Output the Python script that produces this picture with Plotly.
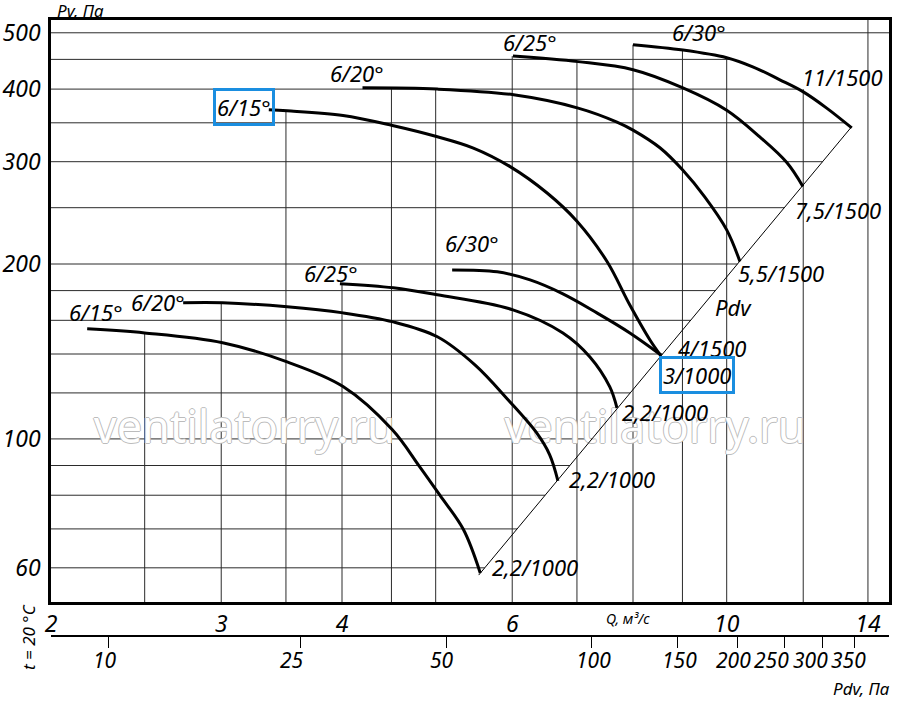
"""Fan performance chart: Pv vs Q for 6/15..6/30 deg blade settings, 1000 and 1500 rpm."""

import numpy as np
import plotly.graph_objects as go

# values: Q in m3/s, Pv in Pa (both axes logarithmic)
UP15_Q = [3.36, 3.51, 4.01, 4.51, 5.01, 5.47, 5.97, 6.52, 7.00, 7.52, 7.94, 8.33, 8.55]
UP15_PV = [368.5, 367, 360.3, 346.3, 331.5, 316.7, 294.2, 265, 237, 202, 170, 148, 139]

UP20_Q = [4.20, 5.02, 6.02, 7.02, 7.70, 8.00, 8.53, 9.01, 9.49, 10.0, 10.32]
UP20_PV = [402, 400, 391, 371, 351, 340, 317, 290, 261, 229, 202]

UP25_Q = [6.01, 7.02, 8.00, 9.01, 10.0, 10.82, 11.54, 11.99]
UP25_PV = [456, 446, 432, 402, 368, 331, 299, 272]

UP30_Q = [8.00, 9.01, 10.0, 10.64, 11.35, 11.99, 12.69, 13.47]
UP30_PV = [477, 467, 453, 437, 415, 396, 371, 343]

LO15_Q = [2.18, 2.50, 3.01, 3.51, 4.01, 4.51, 4.81, 5.05, 5.34, 5.56]
LO15_PV = [154.7, 152.2, 146.4, 135.7, 123.1, 103.7, 89.7, 80.0, 69.9, 58.8]

LO20_Q = [2.74, 3.01, 3.51, 4.01, 4.52, 5.02, 5.49, 5.94, 6.36, 6.56, 6.69]
LO20_PV = [171.5, 171.5, 168.8, 164.8, 159.0, 149.9, 134.1, 116.8, 102.4, 93.9, 84.7]

LO25_Q = [3.98, 4.52, 5.02, 6.01, 6.77, 7.22, 7.57, 7.70]
LO25_PV = [185.0, 182.0, 177.0, 166.8, 152.2, 138.4, 122.9, 113.1]

LO30_Q = [5.20, 5.79, 6.26, 6.77, 7.34, 7.94, 8.55]
LO30_PV = [195.4, 193.9, 187.8, 177.7, 164.8, 152.2, 139.5]

# dynamic pressure line (Pv == Pdv), ends of the thin diagonal
PDV_LINE_PV = [58.3, 343.0]

# axis ticks
Q_TICKS = [2, 3, 4, 6, 10, 14]
PV_TICKS = [60, 100, 200, 300, 400, 500]
PDV_TICKS = [10, 25, 50, 100, 150, 200, 250, 300, 350]

# grid: vertical lines run from the bottom up to the curve above them
VGRID_Q = [2.5, 3, 3.5, 4, 4.5, 5, 6, 7, 8, 9, 10, 12, 14]
VGRID_TOP_PV = [152, 171.5, 367, 184, 400, 400, 456, 446, 477, 467, 453, 400, None]
HGRID_PV = [60, 70, 80, 90, 100, 120, 140, 160, 180, 200, 250, 300, 350, 400, 450, 500]

FONT = "Noto Sans"
X_RANGE = (2.0, 14.72)
Y_RANGE = (52.4, 526.0)
PDV_K = 1.9  # Pdv = PDV_K * Q^2

W, H = 900, 706
M = {"l": 51, "r": 11, "t": 20, "b": 70}
PLOT_BOTTOM = 602  # pixel row of the Q axis
# the crowded Pdv labels are nudged left of their ticks, as in the original
PDV_LABEL_SHIFT = [-4, -9, -4, 2, 2, -4, -13, -12, -6]


def paper(x, y):
    return (x - M["l"]) / (W - M["l"] - M["r"]), (H - M["b"] - y) / (H - M["t"] - M["b"])


def grid_end(pv):
    if pv <= PDV_LINE_PV[-1]:
        return float(np.sqrt(pv / PDV_K))
    if pv <= max(UP30_PV):
        return float(10 ** np.interp(np.log10(pv), np.log10(UP30_PV[::-1]), np.log10(UP30_Q[::-1])))
    return X_RANGE[1]


fig = go.Figure()

gx, gy = [], []
for q, top in zip(VGRID_Q, VGRID_TOP_PV):
    gx += [q, q, None]
    gy += [Y_RANGE[0], top if top else Y_RANGE[1], None]
for pv in HGRID_PV:
    gx += [X_RANGE[0], grid_end(pv), None]
    gy += [pv, pv, None]
fig.add_trace(go.Scatter(x=gx, y=gy, mode="lines", line={"color": "#2b2b2b", "width": 1},
                         hoverinfo="skip", showlegend=False))

# watermark, under the curves
fig.add_trace(go.Scatter(
    x=[3.17, 8.43], y=[102.9, 102.9], mode="text", text=["ventilatorry.ru"] * 2,
    textfont={"family": FONT, "size": 45, "color": "white",
              "shadow": "1px 0 0 #bcbcbc, -1px 0 0 #bcbcbc, 0 1px 0 #bcbcbc, 0 -1px 0 #bcbcbc"},
    hoverinfo="skip", showlegend=False,
))

# Pdv line: on the Pdv axis it is simply Pv = Pdv
fig.add_trace(go.Scatter(x=PDV_LINE_PV, y=PDV_LINE_PV, xaxis="x2", mode="lines",
                         line={"color": "black", "width": 1}, hoverinfo="skip", showlegend=False))

for q, pv in [(UP15_Q, UP15_PV), (UP20_Q, UP20_PV), (UP25_Q, UP25_PV), (UP30_Q, UP30_PV),
              (LO15_Q, LO15_PV), (LO20_Q, LO20_PV), (LO25_Q, LO25_PV), (LO30_Q, LO30_PV)]:
    fig.add_trace(go.Scatter(x=q, y=pv, mode="lines",
                             line={"color": "black", "width": 3, "shape": "spline", "smoothing": 1.0},
                             showlegend=False))

# text: (label, x px, y px, size, boxed)
LABELS = [
    ("6/15°", 244, 107, 22, True), ("6/20°", 357, 73, 22, False),
    ("6/25°", 530, 42, 22, False), ("6/30°", 699, 32, 22, False),
    ("11/1500", 842, 77, 22, False), ("7,5/1500", 838, 210, 22, False),
    ("5,5/1500", 781, 273, 22, False), ("Pdv", 733, 307, 22, False),
    ("4/1500", 712, 348, 22, False), ("3/1000", 697, 375, 22, True),
    ("6/30°", 472, 243, 22, False), ("6/25°", 331, 273, 22, False),
    ("6/20°", 158, 302, 22, False), ("6/15°", 96, 312, 22, False),
    ("2,2/1000", 665, 412, 22, False), ("2,2/1000", 612, 479, 22, False),
    ("2,2/1000", 535, 567, 22, False),
    ("Pv, Па", 80, 10, 17, False), ("Q, м³/с", 628, 618, 14, False),
    ("Pdv, Па", 861, 688, 17, False),
]
for text, x, y, size, boxed in LABELS:
    px, py = paper(x, y)
    fig.add_annotation(
        x=px, y=py, xref="paper", yref="paper", xanchor="center", yanchor="middle",
        text=text, showarrow=False,
        font={"family": FONT, "size": size, "color": "black", "style": "italic"},
        bordercolor="#1a8ee0" if boxed else "rgba(0,0,0,0)", borderwidth=3 if boxed else 0,
        borderpad=1,
    )
px, py = paper(28, 637)
fig.add_annotation(x=px, y=py, xref="paper", yref="paper", xanchor="center", yanchor="middle",
                   text="t = 20 °C", showarrow=False, textangle=-90,
                   font={"family": FONT, "size": 17, "color": "black", "style": "italic"})

# Pdv tick labels, tied to the Pdv axis
_, label_y = paper(0, 660)
for v, shift in zip(PDV_TICKS, PDV_LABEL_SHIFT):
    fig.add_annotation(x=np.log10(v), y=label_y, xref="x2", yref="paper", xanchor="center",
                       yanchor="middle", xshift=shift, text=str(v), showarrow=False,
                       font={"family": FONT, "size": 21, "color": "black", "style": "italic"})

tick_font = {"family": FONT, "size": 23, "color": "black", "style": "italic"}
y_bottom = (H - M["b"] - PLOT_BOTTOM) / (H - M["t"] - M["b"])

fig.update_layout(
    width=W, height=H, margin=M,
    paper_bgcolor="white", plot_bgcolor="white",
    xaxis={
        "type": "log", "range": [np.log10(X_RANGE[0]), np.log10(X_RANGE[1])],
        "tickvals": Q_TICKS, "ticktext": [str(t) for t in Q_TICKS], "tickfont": tick_font,
        "showgrid": False, "zeroline": False, "showline": True, "mirror": True,
        "linecolor": "black", "linewidth": 2.5, "ticks": "", "anchor": "y", "automargin": False,
        "tickangle": 0,
    },
    yaxis={
        "type": "log", "range": [np.log10(Y_RANGE[0]), np.log10(Y_RANGE[1])],
        "domain": [y_bottom, 1], "tickvals": PV_TICKS, "ticktext": [str(t) for t in PV_TICKS],
        "tickfont": tick_font, "showgrid": False, "zeroline": False, "showline": True,
        "mirror": True, "linecolor": "black", "linewidth": 2.5, "ticks": "",
        "ticklabelstandoff": 3, "automargin": False,
    },
    xaxis2={
        "type": "log", "overlaying": "x", "anchor": "free", "position": 0, "side": "bottom",
        "range": [np.log10(PDV_K * X_RANGE[0] ** 2), np.log10(PDV_K * X_RANGE[1] ** 2)],
        "tickvals": PDV_TICKS, "showticklabels": False,
        "showgrid": False, "zeroline": False, "showline": True, "linecolor": "black",
        "linewidth": 2, "ticks": "outside", "ticklen": 11, "tickwidth": 1, "tickcolor": "black",
        "automargin": False,
    },
)

# the page's default body margin would push the figure off the 900x706 window
fig.write_html("out.html", config={"displayModeBar": False},
               post_script="document.body.style.margin = '0';")
